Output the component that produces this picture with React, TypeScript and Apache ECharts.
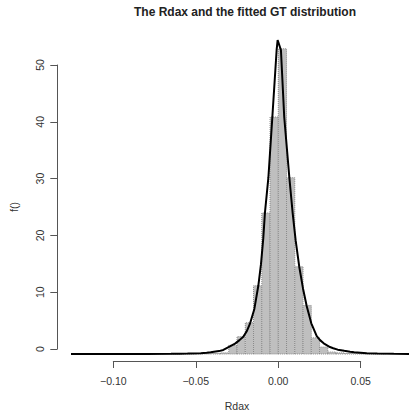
import React, { useEffect, useRef } from "react";
import * as echarts from "echarts";

// Histogram of Rdax returns (density scale), bin edges and densities
const binEdges = [
  -0.1, -0.095, -0.09, -0.085, -0.08, -0.075, -0.07, -0.065, -0.06, -0.055,
  -0.05, -0.045, -0.04, -0.035, -0.03, -0.025, -0.02, -0.015, -0.01, -0.005,
  0.0, 0.005, 0.01, 0.015, 0.02, 0.025, 0.03, 0.035, 0.04, 0.045, 0.05,
  0.055, 0.06, 0.065,
];
const binDensity = [
  0.04, 0.0, 0.0, 0.0, 0.0, 0.04, 0.0, 0.0, 0.04, 0.0,
  0.08, 0.08, 0.12, 0.2, 1.5, 3.0, 5.4, 11.8, 24.4, 41.0,
  52.8, 30.5, 15.1, 8.4, 2.8, 1.2, 0.35, 0.2, 0.1, 0.08,
  0.04, 0.04, 0.04,
];

// Fitted GT density
const curveX = [
  -0.1256, -0.1, -0.08, -0.065, -0.0596, -0.055, -0.047, -0.0434, -0.041, -0.036,
  -0.0333, -0.0293, -0.0262, -0.0235, -0.0212, -0.019, -0.0172, -0.0145, -0.0121, -0.0105,
  -0.0091, -0.0081, -0.006, -0.0036, -0.001, -0.0004, 0.0016, 0.0036, 0.0067, 0.0087,
  0.0105, 0.0127, 0.015, 0.0172, 0.02, 0.0233, 0.0253, 0.0275, 0.0313, 0.0333,
  0.036, 0.04, 0.0435, 0.046, 0.0536, 0.06, 0.07, 0.0792,
];
const curveY = [
  0.005, 0.01, 0.02, 0.04, 0.05, 0.08, 0.15, 0.22, 0.3, 0.5,
  0.7, 1.3, 1.8, 2.4, 3.0, 4.0, 5.2, 7.8, 11.8, 15.5,
  20.0, 24.4, 30.5, 41.0, 52.6, 54.3, 52.6, 41.0, 30.5, 24.4,
  19.7, 15.1, 11.3, 8.3, 5.3, 3.1, 2.4, 1.85, 1.2, 1.0,
  0.75, 0.55, 0.4, 0.3, 0.12, 0.07, 0.03, 0.015,
];

const xTicks = { min: -0.1, max: 0.05, step: 0.05 };
const yTicks = { min: 0, max: 50, step: 10 };

const FONT = "'Liberation Sans', Arial, Helvetica, sans-serif";
const TEXT = "#333";
const AXIS = "#555";

const fmtX = (v: number) => {
  const s = Math.abs(v).toFixed(2);
  return v < -1e-9 ? "\u2212" + s : s;
};

export default function App() {
  const ref = useRef<HTMLDivElement>(null);

  useEffect(() => {
    if (!ref.current) return;
    const chart = echarts.init(ref.current, undefined, { renderer: "svg" });

    const bins = binDensity.map((d, i) => [binEdges[i], binEdges[i + 1], d]);
    const curve = curveX.map((x, i) => [x, curveY[i]]);

    chart.setOption({
      animation: false,
      backgroundColor: "#ffffff",
      title: {
        text: "The Rdax and the fitted GT distribution",
        left: 240,
        top: 1,
        textAlign: "center",
        textStyle: { fontFamily: FONT, fontSize: 12, fontWeight: "bold", color: "#222" },
      },
      grid: [
        { left: 71, right: 0, top: 30.3, bottom: 62 },
        { left: 113.3, right: 48.3, top: 65, bottom: 62 },
      ],
      xAxis: [
        { type: "value", gridIndex: 0, min: -0.1256, max: 0.0792, show: false },
        {
          type: "value",
          gridIndex: 1,
          min: xTicks.min,
          max: xTicks.max,
          interval: xTicks.step,
          offset: 12,
          axisLine: { show: true, onZero: false, lineStyle: { color: AXIS, width: 1 } },
          axisTick: { show: true, length: 7, lineStyle: { color: AXIS, width: 1 } },
          splitLine: { show: false },
          axisLabel: { margin: 14, formatter: fmtX, color: TEXT, fontSize: 10.5, fontFamily: FONT },
          name: "Rdax",
          nameLocation: "middle",
          nameGap: 39,
          nameTextStyle: { color: TEXT, fontSize: 10.5, fontFamily: FONT },
        },
      ],
      yAxis: [
        { type: "value", gridIndex: 0, min: 0, max: 56, show: false },
        {
          type: "value",
          gridIndex: 1,
          min: yTicks.min,
          max: yTicks.max,
          interval: yTicks.step,
          offset: 56,
          axisLine: { show: true, onZero: false, lineStyle: { color: AXIS, width: 1 } },
          axisTick: { show: true, length: 7, lineStyle: { color: AXIS, width: 1 } },
          splitLine: { show: false },
          axisLabel: { margin: 12, rotate: 90, color: TEXT, fontSize: 10.5, fontFamily: FONT },
          name: "f()",
          nameLocation: "middle",
          nameGap: 38,
          nameTextStyle: { color: TEXT, fontSize: 10.5, fontFamily: FONT },
        },
      ],
      series: [
        {
          type: "custom",
          xAxisIndex: 0,
          yAxisIndex: 0,
          data: bins,
          encode: { x: [0, 1], y: 2 },
          renderItem: (params: any, api: any) => {
            const lo = api.value(0);
            const hi = api.value(1);
            const d = api.value(2);
            const p0 = api.coord([lo, 0]);
            const p1 = api.coord([hi, d]);
            return {
              type: "group",
              children: [
                {
                  type: "rect",
                  shape: { x: p0[0], y: p1[1], width: p1[0] - p0[0], height: p0[1] - p1[1] },
                  style: { fill: "#bfbfbf" },
                },
                {
                  type: "polyline",
                  shape: {
                    points: [
                      [p0[0], p0[1]],
                      [p0[0], p1[1]],
                      [p1[0], p1[1]],
                      [p1[0], p0[1]],
                      [p0[0], p0[1]],
                    ],
                  },
                  style: { fill: null, stroke: "#8a8a8a", lineWidth: 1, lineDash: [1, 1] },
                },
              ],
            };
          },
          z: 1,
        },
        {
          type: "line",
          xAxisIndex: 0,
          yAxisIndex: 0,
          data: curve,
          showSymbol: false,
          symbol: "none",
          lineStyle: { color: "#000", width: 2 },
          z: 3,
        },
      ],
    });

    return () => chart.dispose();
  }, []);

  return (
    <div
      ref={ref}
      style={{ position: "fixed", left: 0, top: 0, width: 409, height: 416 }}
    />
  );
}
